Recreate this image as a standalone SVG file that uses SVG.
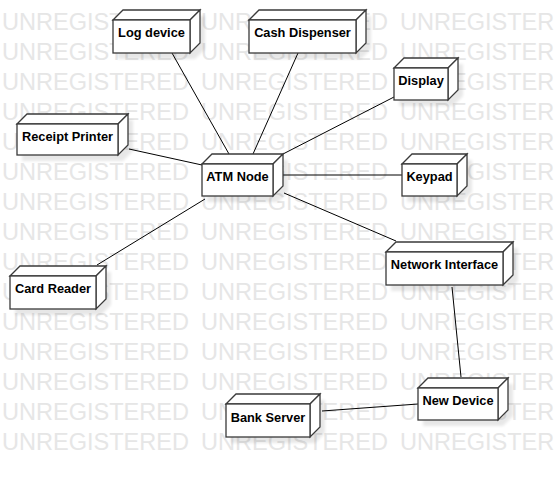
<svg xmlns="http://www.w3.org/2000/svg" width="554" height="478" viewBox="0 0 554 478">
<style>
.wm{font-family:"Liberation Sans",Arial,sans-serif;font-size:23.5px;fill:#e6e6e6}
.face{fill:#ffffff;stroke:#3a3a3a;stroke-width:1.3;stroke-linejoin:miter}
.shadow{fill:#000000;opacity:0.09;filter:url(#blur)}
.label{font-family:"Liberation Sans",Arial,sans-serif;font-size:12.8px;font-weight:bold;fill:#000000;text-anchor:middle}
.conn line{stroke:#000000;stroke-width:1}
</style>
<defs>
<filter id="blur" x="-20%" y="-20%" width="140%" height="140%"><feGaussianBlur stdDeviation="1.5"/></filter>
</defs>
<rect width="554" height="478" fill="#ffffff"/>
<g id="watermark">
<text class="wm" x="2" y="29.7" textLength="187" lengthAdjust="spacingAndGlyphs">UNREGISTERED</text><text class="wm" x="201" y="29.7" textLength="187" lengthAdjust="spacingAndGlyphs">UNREGISTERED</text><text class="wm" x="400" y="29.7" textLength="187" lengthAdjust="spacingAndGlyphs">UNREGISTERED</text>
<text class="wm" x="2" y="59.7" textLength="187" lengthAdjust="spacingAndGlyphs">UNREGISTERED</text><text class="wm" x="201" y="59.7" textLength="187" lengthAdjust="spacingAndGlyphs">UNREGISTERED</text><text class="wm" x="400" y="59.7" textLength="187" lengthAdjust="spacingAndGlyphs">UNREGISTERED</text>
<text class="wm" x="2" y="89.7" textLength="187" lengthAdjust="spacingAndGlyphs">UNREGISTERED</text><text class="wm" x="201" y="89.7" textLength="187" lengthAdjust="spacingAndGlyphs">UNREGISTERED</text><text class="wm" x="400" y="89.7" textLength="187" lengthAdjust="spacingAndGlyphs">UNREGISTERED</text>
<text class="wm" x="2" y="119.7" textLength="187" lengthAdjust="spacingAndGlyphs">UNREGISTERED</text><text class="wm" x="201" y="119.7" textLength="187" lengthAdjust="spacingAndGlyphs">UNREGISTERED</text><text class="wm" x="400" y="119.7" textLength="187" lengthAdjust="spacingAndGlyphs">UNREGISTERED</text>
<text class="wm" x="2" y="149.7" textLength="187" lengthAdjust="spacingAndGlyphs">UNREGISTERED</text><text class="wm" x="201" y="149.7" textLength="187" lengthAdjust="spacingAndGlyphs">UNREGISTERED</text><text class="wm" x="400" y="149.7" textLength="187" lengthAdjust="spacingAndGlyphs">UNREGISTERED</text>
<text class="wm" x="2" y="179.7" textLength="187" lengthAdjust="spacingAndGlyphs">UNREGISTERED</text><text class="wm" x="201" y="179.7" textLength="187" lengthAdjust="spacingAndGlyphs">UNREGISTERED</text><text class="wm" x="400" y="179.7" textLength="187" lengthAdjust="spacingAndGlyphs">UNREGISTERED</text>
<text class="wm" x="2" y="209.7" textLength="187" lengthAdjust="spacingAndGlyphs">UNREGISTERED</text><text class="wm" x="201" y="209.7" textLength="187" lengthAdjust="spacingAndGlyphs">UNREGISTERED</text><text class="wm" x="400" y="209.7" textLength="187" lengthAdjust="spacingAndGlyphs">UNREGISTERED</text>
<text class="wm" x="2" y="239.7" textLength="187" lengthAdjust="spacingAndGlyphs">UNREGISTERED</text><text class="wm" x="201" y="239.7" textLength="187" lengthAdjust="spacingAndGlyphs">UNREGISTERED</text><text class="wm" x="400" y="239.7" textLength="187" lengthAdjust="spacingAndGlyphs">UNREGISTERED</text>
<text class="wm" x="2" y="269.7" textLength="187" lengthAdjust="spacingAndGlyphs">UNREGISTERED</text><text class="wm" x="201" y="269.7" textLength="187" lengthAdjust="spacingAndGlyphs">UNREGISTERED</text><text class="wm" x="400" y="269.7" textLength="187" lengthAdjust="spacingAndGlyphs">UNREGISTERED</text>
<text class="wm" x="2" y="299.7" textLength="187" lengthAdjust="spacingAndGlyphs">UNREGISTERED</text><text class="wm" x="201" y="299.7" textLength="187" lengthAdjust="spacingAndGlyphs">UNREGISTERED</text><text class="wm" x="400" y="299.7" textLength="187" lengthAdjust="spacingAndGlyphs">UNREGISTERED</text>
<text class="wm" x="2" y="329.7" textLength="187" lengthAdjust="spacingAndGlyphs">UNREGISTERED</text><text class="wm" x="201" y="329.7" textLength="187" lengthAdjust="spacingAndGlyphs">UNREGISTERED</text><text class="wm" x="400" y="329.7" textLength="187" lengthAdjust="spacingAndGlyphs">UNREGISTERED</text>
<text class="wm" x="2" y="359.7" textLength="187" lengthAdjust="spacingAndGlyphs">UNREGISTERED</text><text class="wm" x="201" y="359.7" textLength="187" lengthAdjust="spacingAndGlyphs">UNREGISTERED</text><text class="wm" x="400" y="359.7" textLength="187" lengthAdjust="spacingAndGlyphs">UNREGISTERED</text>
<text class="wm" x="2" y="389.7" textLength="187" lengthAdjust="spacingAndGlyphs">UNREGISTERED</text><text class="wm" x="201" y="389.7" textLength="187" lengthAdjust="spacingAndGlyphs">UNREGISTERED</text><text class="wm" x="400" y="389.7" textLength="187" lengthAdjust="spacingAndGlyphs">UNREGISTERED</text>
<text class="wm" x="2" y="419.7" textLength="187" lengthAdjust="spacingAndGlyphs">UNREGISTERED</text><text class="wm" x="201" y="419.7" textLength="187" lengthAdjust="spacingAndGlyphs">UNREGISTERED</text><text class="wm" x="400" y="419.7" textLength="187" lengthAdjust="spacingAndGlyphs">UNREGISTERED</text>
<text class="wm" x="2" y="449.7" textLength="187" lengthAdjust="spacingAndGlyphs">UNREGISTERED</text><text class="wm" x="201" y="449.7" textLength="187" lengthAdjust="spacingAndGlyphs">UNREGISTERED</text><text class="wm" x="400" y="449.7" textLength="187" lengthAdjust="spacingAndGlyphs">UNREGISTERED</text>
</g>
<g id="connectors" class="conn">
<line x1="172" y1="53" x2="229" y2="154"/>
<line x1="298" y1="53" x2="253" y2="154"/>
<line x1="394" y1="97" x2="283" y2="154"/>
<line x1="129" y1="149" x2="202" y2="165"/>
<line x1="283" y1="175" x2="402" y2="175"/>
<line x1="284" y1="193" x2="396" y2="241"/>
<line x1="97" y1="265" x2="205" y2="199"/>
<line x1="452" y1="287" x2="461" y2="377"/>
<line x1="322" y1="411" x2="418" y2="404"/>
</g>
<g id="node-log-device">
<polygon class="shadow" points="113,20 123,10 200,10 200,43 190,53 113,53" transform="translate(5,6)"/>
<polygon class="face" points="113,20 123,10 200,10 190,20"/>
<polygon class="face" points="190,20 200,10 200,43 190,53"/>
<rect class="face" x="113" y="20" width="77" height="33"/>
<text class="label" x="151.5" y="37">Log device</text>
</g>
<g id="node-cash-dispenser">
<polygon class="shadow" points="249,20 259,10 366,10 366,43 356,53 249,53" transform="translate(5,6)"/>
<polygon class="face" points="249,20 259,10 366,10 356,20"/>
<polygon class="face" points="356,20 366,10 366,43 356,53"/>
<rect class="face" x="249" y="20" width="107" height="33"/>
<text class="label" x="302.5" y="37">Cash Dispenser</text>
</g>
<g id="node-display">
<polygon class="shadow" points="394,68 404,58 458,58 458,90 448,100 394,100" transform="translate(5,6)"/>
<polygon class="face" points="394,68 404,58 458,58 448,68"/>
<polygon class="face" points="448,68 458,58 458,90 448,100"/>
<rect class="face" x="394" y="68" width="54" height="32"/>
<text class="label" x="421" y="85">Display</text>
</g>
<g id="node-receipt-printer">
<polygon class="shadow" points="17,124 27,114 128,114 128,145 118,155 17,155" transform="translate(5,6)"/>
<polygon class="face" points="17,124 27,114 128,114 118,124"/>
<polygon class="face" points="118,124 128,114 128,145 118,155"/>
<rect class="face" x="17" y="124" width="101" height="31"/>
<text class="label" x="67.5" y="140.5">Receipt Printer</text>
</g>
<g id="node-atm">
<polygon class="shadow" points="202,164 212,154 283,154 283,186 273,196 202,196" transform="translate(5,6)"/>
<polygon class="face" points="202,164 212,154 283,154 273,164"/>
<polygon class="face" points="273,164 283,154 283,186 273,196"/>
<rect class="face" x="202" y="164" width="71" height="32"/>
<text class="label" x="237.5" y="181">ATM Node</text>
</g>
<g id="node-keypad">
<polygon class="shadow" points="402,164 412,154 467,154 467,186 457,196 402,196" transform="translate(5,6)"/>
<polygon class="face" points="402,164 412,154 467,154 457,164"/>
<polygon class="face" points="457,164 467,154 467,186 457,196"/>
<rect class="face" x="402" y="164" width="55" height="32"/>
<text class="label" x="429.5" y="181">Keypad</text>
</g>
<g id="node-network-interface">
<polygon class="shadow" points="386,252 396,242 513,242 513,275 503,285 386,285" transform="translate(5,6)"/>
<polygon class="face" points="386,252 396,242 513,242 503,252"/>
<polygon class="face" points="503,252 513,242 513,275 503,285"/>
<rect class="face" x="386" y="252" width="117" height="33"/>
<text class="label" x="444.5" y="269">Network Interface</text>
</g>
<g id="node-card-reader">
<polygon class="shadow" points="10,276 20,266 106,266 106,299 96,309 10,309" transform="translate(5,6)"/>
<polygon class="face" points="10,276 20,266 106,266 96,276"/>
<polygon class="face" points="96,276 106,266 106,299 96,309"/>
<rect class="face" x="10" y="276" width="86" height="33"/>
<text class="label" x="53" y="293">Card Reader</text>
</g>
<g id="node-new-device">
<polygon class="shadow" points="418,388 428,378 508,378 508,410 498,420 418,420" transform="translate(5,6)"/>
<polygon class="face" points="418,388 428,378 508,378 498,388"/>
<polygon class="face" points="498,388 508,378 508,410 498,420"/>
<rect class="face" x="418" y="388" width="80" height="32"/>
<text class="label" x="458" y="405">New Device</text>
</g>
<g id="node-bank-server">
<polygon class="shadow" points="226,404 236,394 320,394 320,427 310,437 226,437" transform="translate(5,6)"/>
<polygon class="face" points="226,404 236,394 320,394 310,404"/>
<polygon class="face" points="310,404 320,394 320,427 310,437"/>
<rect class="face" x="226" y="404" width="84" height="33"/>
<text class="label" x="268" y="421.5">Bank Server</text>
</g>
</svg>
